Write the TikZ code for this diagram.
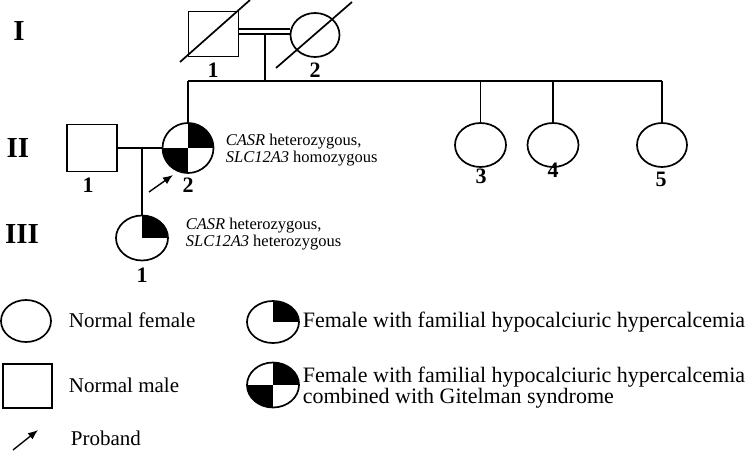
\documentclass[tikz,border=0pt]{standalone}
\usepackage{fontspec}
\setmainfont{Liberation Serif}
\usetikzlibrary{arrows.meta,shapes.geometric}

\begin{document}
\begin{tikzpicture}
			[x=1pt,y=-1pt,line width=1.7pt,
			ped/.style={draw,inner sep=0pt,fill=white},
			female/.style={ped,ellipse,minimum width=51pt,minimum height=44pt},
			male/.style={ped,rectangle,minimum width=50pt,minimum height=45pt},
			fhh/.style={female,path picture={\fill[black] (path picture bounding box.center) rectangle (path picture bounding box.north east);}},
			fhhgs/.style={female,path picture={\fill[black] (path picture bounding box.center) rectangle (path picture bounding box.north east);
					\fill[black] (path picture bounding box.center) rectangle (path picture bounding box.south west);}},
			gen/.style={font=\bfseries\fontsize{29}{29}\selectfont},
			num/.style={font=\bfseries\fontsize{22}{22}\selectfont},
			gene/.style={anchor=west,align=left,inner sep=0pt,font=\fontsize{16.5}{17}\selectfont},
			key/.style={anchor=west,align=left,inner sep=0pt,font=\fontsize{21}{20}\selectfont},
			edge/.style={->,> = {Latex[length=10pt,width=8pt]},line width=1.4pt}]
			\useasboundingbox (0,0) rectangle (756,452);
			
			\node[gen] (g1) at (19,31) {I};
			\node[gen] (g2) at (18,148) {II};
			\node[gen] (g3) at (22,234) {III};
			
			\node[male] (i1) at (213.5,34) {};
			\node[female,minimum width=49pt] (i2) at (315,35) {};
			\node[num] (i1n) at (213,70) {1};
			\node[num] (i2n) at (315,70) {2};
			\coordinate (s1a) at (180,62);
			\coordinate (s1b) at (250,0);
			\coordinate (s2a) at (276,68);
			\coordinate (s2b) at (352,2);
			\draw (s1a) -- (s1b);
			\draw (s2a) -- (s2b);
			\draw ([yshift=5pt]i1.east) -- ([yshift=5pt]i1.east -| i2.west);
			\draw (i1.east) -- (i1.east -| i2.west);
			\coordinate (m1) at (265,34);
			\coordinate (sib) at (265,81);
			\draw (m1) -- (sib);
			
			\node[fhhgs,minimum height=50pt] (ii2) at (188,148) {};
			\node[male,minimum height=47pt] (ii1) at (92,148) {};
			\node[female] (ii3) at (480.5,145) {};
			\node[female] (ii4) at (553,145) {};
			\node[female,minimum width=50pt] (ii5) at (662,145) {};
			\draw (ii2.north |- sib) -- (ii5.north |- sib);
			\draw (ii2.north |- sib) -- (ii2.north);
			\draw (ii3.north |- sib) -- (ii3.north);
			\draw (ii4.north |- sib) -- (ii4.north);
			\draw (ii5.north |- sib) -- (ii5.north);
			\node[num] (ii1n) at (88,185) {1};
			\node[num] (ii2n) at (188,185) {2};
			\node[num] (ii3n) at (481,176) {3};
			\node[num] (ii4n) at (553,170) {4};
			\node[num] (ii5n) at (661,179) {5};
			\node[gene] (ii2g) at (225,150.5) {\textit{CASR} heterozygous,\\\textit{SLC12A3} homozygous};
			\coordinate (pa) at (149,192);
			\coordinate (pb) at (173,175);
			\draw[edge] (pa) to (pb);
			
			\draw (ii1) -- (ii2);
			\coordinate (m2) at (142,148);
			\node[fhh,minimum width=52pt,minimum height=45pt] (iii1) at (142,238) {};
			\draw (m2) -- (iii1.north);
			\node[num] (iii1n) at (142,275) {1};
			\node[gene] (iii1g) at (185,234.5) {\textit{CASR} heterozygous,\\\textit{SLC12A3} heterozygous};
			
			\node[female,minimum width=50pt,minimum height=42pt] (l1) at (26,321) {};
			\node[key] (l1t) at (68,320) {Normal female};
			\node[male,minimum width=49pt,minimum height=44pt] (l2) at (27.5,386) {};
			\node[key] (l2t) at (68,385) {Normal male};
			\coordinate (la) at (13,450);
			\coordinate (lb) at (38,430);
			\draw[edge] (la) to (lb);
			\node[key] (l5t) at (70,438) {Proband};
			\node[fhh,minimum width=52pt,minimum height=42pt] (l3) at (273,322) {};
			\node[key,font=\fontsize{22}{20}\selectfont] (l3t) at (302,322) {Female with familial hypocalciuric hypercalcemia};
			\node[fhhgs,minimum width=52pt,minimum height=45pt] (l4) at (273,385) {};
			\node[key,font=\fontsize{22}{20}\selectfont] (l4t) at (302,388) {Female with familial hypocalciuric hypercalcemia\\combined with Gitelman syndrome};
			
			\end{tikzpicture}
\end{document}
